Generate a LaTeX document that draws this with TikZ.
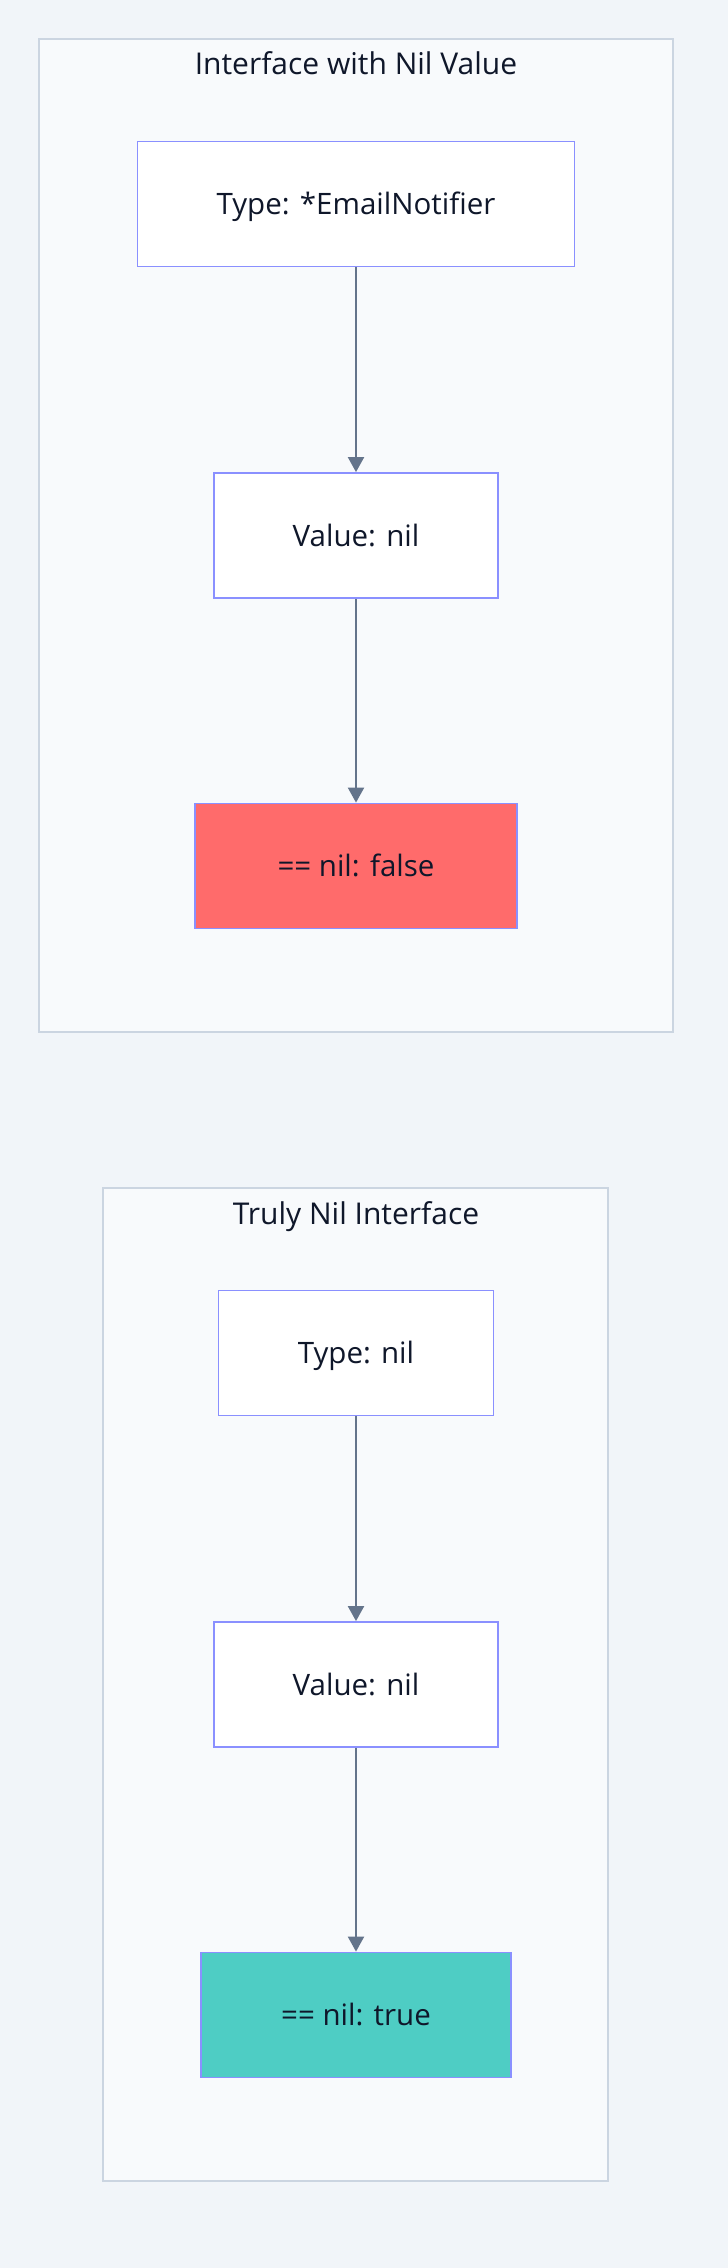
\documentclass[tikz,border=0pt]{standalone}
\usepackage{fontspec}
\setmainfont{Open Sans}
\usetikzlibrary{arrows.meta}
\definecolor{bgc}{HTML}{F1F5F9}
\definecolor{clfill}{HTML}{F8FAFC}
\definecolor{clline}{HTML}{CBD5E1}
\definecolor{ndline}{HTML}{8A90FF}
\definecolor{edgec}{HTML}{64748B}
\definecolor{txtc}{HTML}{0F172A}
\definecolor{redf}{HTML}{FF6B6B}
\definecolor{tealf}{HTML}{4ECDC4}
\tikzset{
  cluster/.style={draw=clline, fill=clfill, line width=1.5pt},
  cltitle/.style={text=txtc, font=\fontsize{30}{34}\selectfont, inner sep=0pt,
    text height=21.4pt, text depth=0pt},
  nodebox/.style={draw=ndline, fill=white, line width=1.8pt, text=txtc,
    font=\fontsize{29.5}{34}\selectfont, minimum height=125pt, inner sep=0pt,
    text height=21pt, text depth=0pt},
  flow/.style={draw=edgec, line width=2pt, -{Triangle[length=15pt,width=16pt]}}
}
\begin{document}
\begin{tikzpicture}[x=1pt,y=-1pt]
\fill[bgc] (0,0) rectangle (728,2268);
\useasboundingbox (0,0) rectangle (728,2268);
% cluster 1
\draw[cluster] (39,39) rectangle (673,1032);
\node[cltitle] (t1) at (356,64) {Interface with Nil Value};
\node[nodebox, minimum width=437pt] (a1) at (356,204) {Type: *EmailNotifier};
\node[nodebox, minimum width=284pt] (a2) at (356,535.5) {Value: nil};
\node[nodebox, minimum width=322pt, fill=redf] (a3) at (356,866) {== nil: false};
\draw[flow] (a1) -- (a2);
\draw[flow] (a2) -- (a3);
% cluster 2
\draw[cluster] (103,1188) rectangle (608,2181);
\node[cltitle] (t2) at (356,1214) {Truly Nil Interface};
\node[nodebox, minimum width=275pt] (b1) at (356,1353) {Type: nil};
\node[nodebox, minimum width=284pt] (b2) at (356,1684.5) {Value: nil};
\node[nodebox, minimum width=310pt, fill=tealf] (b3) at (356,2015) {== nil: true};
\draw[flow] (b1) -- (b2);
\draw[flow] (b2) -- (b3);
\end{tikzpicture}
\end{document}
